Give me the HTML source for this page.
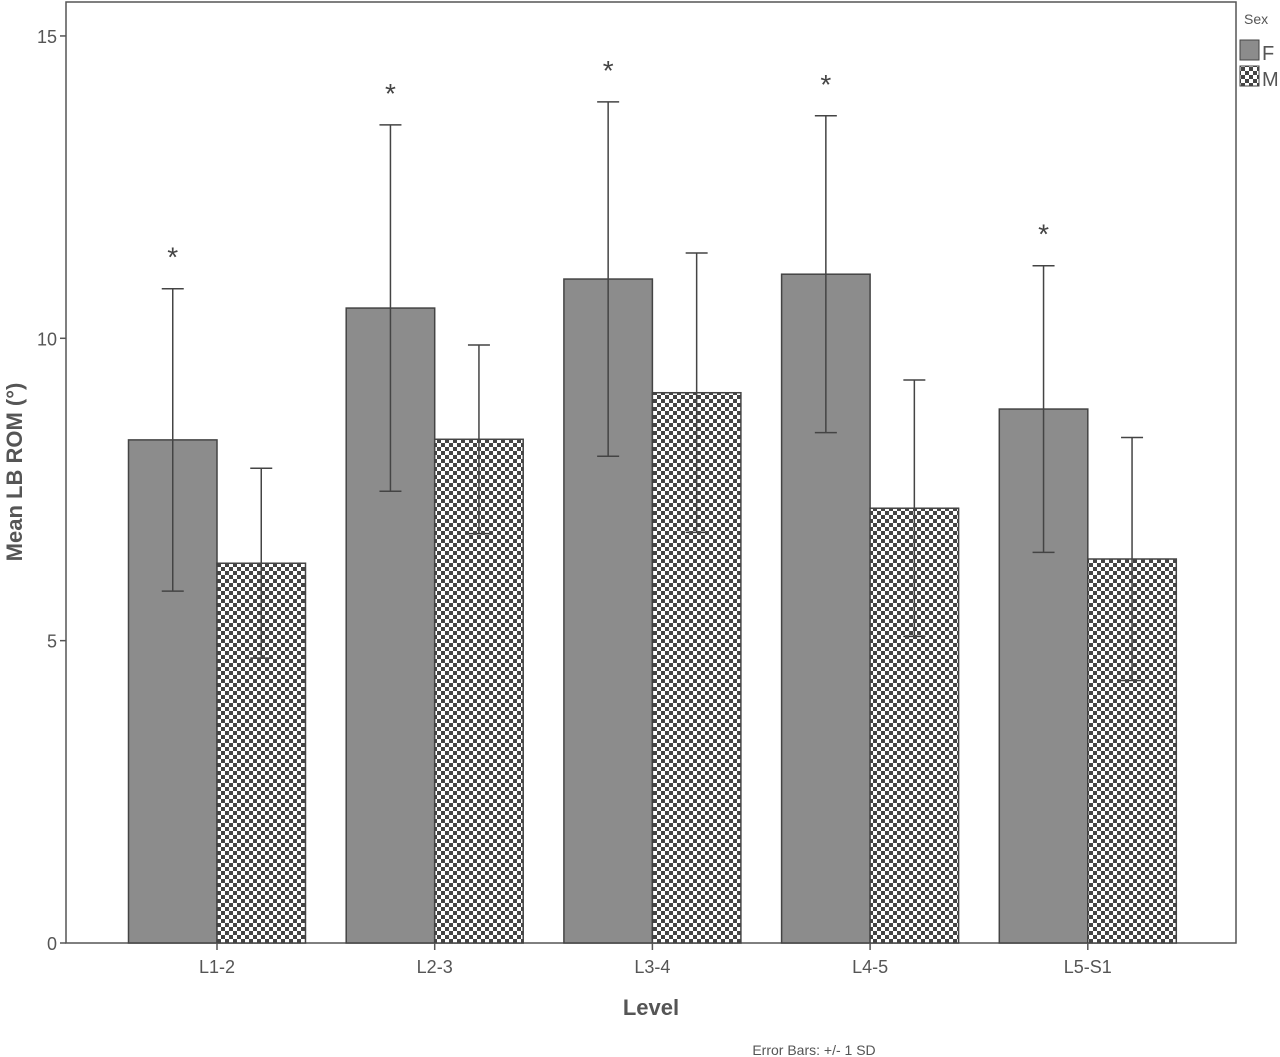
<!DOCTYPE html>
<html><head><meta charset="utf-8"><style>
body{margin:0;background:#fff}
svg{display:block;font-family:"Liberation Sans",Arial,sans-serif}
</style></head><body>
<svg id="chart" width="1280" height="1057" viewBox="0 0 1280 1057">
<defs>
<pattern id="chk" width="8" height="8" patternUnits="userSpaceOnUse" x="217" y="563">
<rect width="8" height="8" fill="#fff"/>
<rect width="4" height="4" fill="#444"/>
<rect x="4" y="4" width="4" height="4" fill="#444"/>
</pattern>
</defs>
<rect x="66" y="2" width="1170" height="941" fill="#fff" stroke="#555" stroke-width="1.5"/>
<g id="yaxis"></g>
<g id="bars"></g>
<g id="xaxis"></g>
<text x="22" y="472" transform="rotate(-90 22 472)" text-anchor="middle" font-size="22" font-weight="bold" fill="#555">Mean LB ROM (°)</text>
<text x="651" y="1015" text-anchor="middle" font-size="22" font-weight="bold" fill="#555">Level</text>
<text x="814" y="1055" text-anchor="middle" font-size="14" fill="#555">Error Bars: +/- 1 SD</text>
<g>
<text x="1244" y="24" font-size="14" fill="#555">Sex</text>
<rect x="1240" y="40" width="19" height="20" fill="#8c8c8c" stroke="#444"/>
<text x="1262" y="60" font-size="20" fill="#555">F</text>
<rect x="1240" y="66" width="19" height="20" fill="url(#chk)" stroke="#444"/>
<text x="1262" y="86" font-size="20" fill="#555">M</text>
</g>
</svg>
<script>
const categories=["L1-2","L2-3","L3-4","L4-5","L5-S1"];
const femaleMean=[8.32,10.50,10.98,11.06,8.83];
const femaleSD=[2.50,3.03,2.93,2.62,2.37];
const maleMean=[6.28,8.33,9.10,7.19,6.35];
const maleSD=[1.57,1.56,2.31,2.12,2.01];
const significant=[true,true,true,true,true];
const yTicks=[0,5,10,15];
const NS="http://www.w3.org/2000/svg";
const y0=943,ppu=60.47;
function y(v){return y0-v*ppu;}
const x0=66,step=217.7,bw=88.5;
function xc(i){return 217+i*step;}
function mk(tag,attrs,parent){const e=document.createElementNS(NS,tag);for(const k in attrs)e.setAttribute(k,attrs[k]);parent.appendChild(e);return e;}
const ya=document.getElementById('yaxis'),bars=document.getElementById('bars'),xa=document.getElementById('xaxis');
yTicks.forEach(t=>{
  const l=mk('line',{x1:60,x2:66,y1:y(t),y2:y(t),stroke:'#555','stroke-width':1.5},ya);
  
  
  const tx=mk('text',{x:57,y:y(t)+7,'text-anchor':'end','font-size':18,fill:'#555'},ya);
  tx.textContent=t;
  
  
});
function errBar(cx,m,sd,g){
  const hi=y(m+sd),lo=y(m-sd);
  mk('line',{x1:cx,x2:cx,y1:hi,y2:lo,stroke:'#444','stroke-width':1.5},g);
  mk('line',{x1:cx-11,x2:cx+11,y1:hi,y2:hi,stroke:'#444','stroke-width':1.5},g);
  mk('line',{x1:cx-11,x2:cx+11,y1:lo,y2:lo,stroke:'#444','stroke-width':1.5},g);
}
categories.forEach((c,i)=>{
  const cx=xc(i);
  const f=mk('rect',{x:cx-bw,y:y(femaleMean[i]),width:bw,height:y0-y(femaleMean[i]),fill:'#8c8c8c',stroke:'#444','stroke-width':1.5},bars);
  
  
  const m=mk('rect',{x:cx,y:y(maleMean[i]),width:bw,height:y0-y(maleMean[i]),fill:'url(#chk)',stroke:'#444','stroke-width':1.5},bars);
  
  
  const ef=mk('g',{},bars);
  
  
  errBar(cx-bw/2,femaleMean[i],femaleSD[i],ef);
  const em=mk('g',{},bars);
  
  
  errBar(cx+bw/2,maleMean[i],maleSD[i],em);
  if(significant[i]){
    const s=mk('text',{x:cx-bw/2,y:y(femaleMean[i]+femaleSD[i])-22,'text-anchor':'middle','font-size':28,fill:'#444'},bars);
    s.textContent='*';
    
    
  }
  const tk=mk('line',{x1:cx,x2:cx,y1:943,y2:950,stroke:'#555','stroke-width':1.5},xa);
  
  
  const lb=mk('text',{x:cx,y:973,'text-anchor':'middle','font-size':18,fill:'#555'},xa);
  lb.textContent=c;
  
  
});
</script>
</body></html>
